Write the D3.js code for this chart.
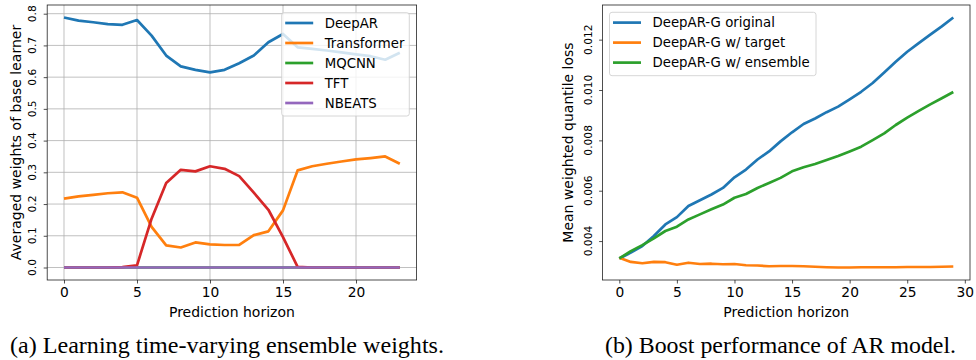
<!DOCTYPE html>
<html>
<head>
<meta charset="utf-8">
<script src="https://cdn.jsdelivr.net/npm/d3@7"></script>
<style>
  body { margin: 0; background: #fff; }
  svg text { font-family: "DejaVu Sans", sans-serif; fill: #000; }
  svg text.caption { font-family: "Liberation Serif", "Times New Roman", serif; }
</style>
</head>
<body>
<div id="chart"></div>
<script>
// ---- data: (a) ensemble weights per horizon ----
var horizonA = [0,1,2,3,4,5,6,7,8,9,10,11,12,13,14,15,16,17,18,19,20,21,22,23];
var deepAR      = [0.788,0.778,0.773,0.767,0.765,0.780,0.731,0.668,0.634,0.623,0.615,0.623,0.644,0.668,0.710,0.736,0.694,0.689,0.684,0.678,0.672,0.666,0.655,0.677];
var transformer = [0.217,0.224,0.229,0.234,0.237,0.220,0.128,0.070,0.063,0.079,0.073,0.071,0.071,0.102,0.114,0.180,0.306,0.319,0.327,0.334,0.341,0.345,0.350,0.327];
var mqcnn       = [0,0,0,0,0,0,0,0,0,0,0,0,0,0,0,0,0,0,0,0,0,0,0,0];
var tft         = [0,0,0,0,0.001,0.007,0.154,0.266,0.308,0.303,0.319,0.311,0.288,0.236,0.182,0.096,0.002,0,0,0,0,0,0,0];
var nbeats      = [0,0,0,0,0,0,0,0,0,0,0,0,0,0,0,0,0,0,0,0,0,0,0,0];
var namesA = ["DeepAR", "Transformer", "MQCNN", "TFT", "NBEATS"];
var ticksXA = [0, 5, 10, 15, 20];
var ticksYA = [0, 0.1, 0.2, 0.3, 0.4, 0.5, 0.6, 0.7, 0.8];

// ---- data: (b) quantile loss per horizon ----
var horizonB = [0,1,2,3,4,5,6,7,8,9,10,11,12,13,14,15,16,17,18,19,20,21,22,23,24,25,26,27,28,29];
var lossOriginal = [0.00331,0.00354,0.00380,0.00420,0.00466,0.00495,0.00539,0.00562,0.00585,0.00611,0.00653,0.00684,0.00724,0.00756,0.00796,0.00832,0.00865,0.00887,0.00912,0.00934,0.00963,0.00993,0.01028,0.01070,0.01112,0.01152,0.01186,0.01220,0.01253,0.01288];
var lossTarget   = [0.00334,0.00317,0.00312,0.00317,0.00316,0.00306,0.00314,0.00309,0.00310,0.00308,0.00309,0.00304,0.00303,0.00300,0.00301,0.00301,0.00300,0.00298,0.00296,0.00295,0.00295,0.00296,0.00296,0.00296,0.00296,0.00297,0.00297,0.00297,0.00298,0.00299];
var lossEnsemble = [0.00331,0.00360,0.00384,0.00411,0.00440,0.00457,0.00486,0.00506,0.00526,0.00545,0.00572,0.00587,0.00611,0.00631,0.00651,0.00677,0.00693,0.00706,0.00722,0.00738,0.00756,0.00775,0.00801,0.00828,0.00861,0.00890,0.00917,0.00943,0.00967,0.00992];
var namesB = ["DeepAR-G original", "DeepAR-G w/ target", "DeepAR-G w/ ensemble"];
var ticksXB = [0, 5, 10, 15, 20, 25, 30];
var ticksYB = [0.004, 0.006, 0.008, 0.010, 0.012];

var colors = ["#1f77b4", "#ff7f0e", "#2ca02c", "#d62728", "#9467bd"];

var svg = d3.select("#chart").append("svg")
  .attr("width", 976)
  .attr("height", 360);

// matplotlib-like 5% padding
function padded(lo, hi) {
  var p = (hi - lo) * 0.05;
  return [lo - p, hi + p];
}

function panel(opt) {
  var g = svg.append("g");
  var xDom = padded(d3.min(opt.xs), d3.max(opt.xs));
  var all = d3.merge(opt.series);
  var yDom = padded(d3.min(all), d3.max(all));
  var x = d3.scaleLinear().domain(xDom).range([opt.left, opt.right]);
  var y = d3.scaleLinear().domain(yDom).range([opt.bottom, opt.top]);

  // grid
  if (opt.grid) {
    g.selectAll(".gx").data(opt.xTicks).enter().append("line")
      .attr("x1", function(d) { return x(d); }).attr("x2", function(d) { return x(d); })
      .attr("y1", opt.top).attr("y2", opt.bottom)
      .attr("stroke", "#b0b0b0").attr("stroke-width", 0.8);
    g.selectAll(".gy").data(opt.yTicks).enter().append("line")
      .attr("y1", function(d) { return y(d); }).attr("y2", function(d) { return y(d); })
      .attr("x1", opt.left).attr("x2", opt.right)
      .attr("stroke", "#b0b0b0").attr("stroke-width", 0.8);
  }

  // lines
  var line = d3.line()
    .x(function(d, i) { return x(opt.xs[i]); })
    .y(function(d) { return y(d); });
  opt.series.forEach(function(s, k) {
    g.append("path")
      .datum(s)
      .attr("fill", "none")
      .attr("stroke", colors[k])
      .attr("stroke-width", 2.7)
      .attr("stroke-linejoin", "round")
      .attr("d", line);
  });

  // x axis
  var xAxis = g.append("g")
    .attr("transform", "translate(0," + opt.bottom + ")")
    .call(d3.axisBottom(x).tickValues(opt.xTicks).tickSize(3.5).tickPadding(3.5).tickSizeOuter(0));
  xAxis.select(".domain").remove();
  xAxis.selectAll("line").attr("stroke", "#222").attr("stroke-width", 0.8);
  xAxis.selectAll("text").attr("font-size", "13.8px").attr("fill", "#000");

  // y axis with rotated labels
  var yAxis = g.append("g")
    .attr("transform", "translate(" + opt.left + ",0)")
    .call(d3.axisLeft(y).tickValues(opt.yTicks).tickSize(3.5).tickFormat(""));
  yAxis.select(".domain").remove();
  yAxis.selectAll("line").attr("stroke", "#222").attr("stroke-width", 0.8);
  g.selectAll(".ylab").data(opt.yTicks).enter().append("text")
    .attr("transform", function(d) { return "translate(" + (opt.left - 11) + "," + y(d) + ") rotate(-90)"; })
    .attr("text-anchor", "middle")
    .attr("font-size", "10.7px")
    .text(d3.format(opt.yFormat));

  // frame
  g.append("rect")
    .attr("x", opt.left).attr("y", opt.top)
    .attr("width", opt.right - opt.left).attr("height", opt.bottom - opt.top)
    .attr("fill", "none").attr("stroke", "#222").attr("stroke-width", 0.8);

  // axis titles
  g.append("text")
    .attr("x", (opt.left + opt.right) / 2).attr("y", 316.7)
    .attr("text-anchor", "middle").attr("font-size", "14px")
    .text("Prediction horizon");
  g.append("text")
    .attr("transform", "translate(" + opt.yLabelX + "," + ((opt.top + opt.bottom) / 2) + ") rotate(-90)")
    .attr("text-anchor", "middle").attr("font-size", "14px")
    .text(opt.yLabel);

  // legend
  var lg = g.append("g");
  lg.append("rect")
    .attr("x", opt.legend.x).attr("y", opt.legend.y)
    .attr("width", opt.legend.w).attr("height", opt.legend.h)
    .attr("rx", 2.5)
    .attr("fill", "#fff").attr("fill-opacity", 0.8)
    .attr("stroke", "#cccccc").attr("stroke-width", 0.8);
  opt.names.forEach(function(n, k) {
    var ly = opt.legend.y + 10.3 + k * 20;
    lg.append("line")
      .attr("x1", opt.legend.x + 3.5).attr("x2", opt.legend.x + 31.5)
      .attr("y1", ly).attr("y2", ly)
      .attr("stroke", colors[k]).attr("stroke-width", 2.7);
    lg.append("text")
      .attr("x", opt.legend.x + 43).attr("y", ly + 4.7)
      .attr("font-size", "13.3px")
      .text(n);
  });
}

panel({
  xs: horizonA,
  series: [deepAR, transformer, mqcnn, tft, nbeats],
  names: namesA,
  xTicks: ticksXA, yTicks: ticksYA, yFormat: ".1f",
  left: 47.2, right: 416.6, top: 5, bottom: 280,
  grid: true,
  yLabel: "Averaged weights of base learner", yLabelX: 20.5,
  legend: { x: 281.7, y: 12.7, w: 127.6, h: 103.3 }
});

panel({
  xs: horizonB,
  series: [lossOriginal, lossTarget, lossEnsemble],
  names: namesB,
  xTicks: ticksXB, yTicks: ticksYB, yFormat: ".3f",
  left: 602.6, right: 970, top: 5, bottom: 280,
  grid: false,
  yLabel: "Mean weighted quantile loss", yLabelX: 572.5,
  legend: { x: 609.5, y: 12.3, w: 206.5, h: 63.4 }
});

// captions
svg.append("text")
  .attr("class", "caption")
  .attr("x", 10).attr("y", 353)
  .attr("font-size", "23px")
  .attr("textLength", 434).attr("lengthAdjust", "spacingAndGlyphs")
  .text("(a) Learning time-varying ensemble weights.");
svg.append("text")
  .attr("class", "caption")
  .attr("x", 605).attr("y", 353)
  .attr("font-size", "23px")
  .attr("textLength", 351).attr("lengthAdjust", "spacingAndGlyphs")
  .text("(b) Boost performance of AR model.");
</script>
</body>
</html>
